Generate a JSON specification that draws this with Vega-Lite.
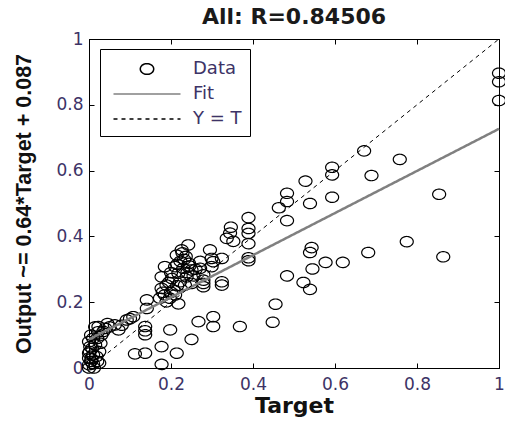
{
  "$schema": "https://vega.github.io/schema/vega-lite/v6.json",
  "width": 410,
  "height": 329,
  "autosize": "none",
  "padding": {"left": 89, "top": 39, "right": 6, "bottom": 55},
  "background": "white",
  "title": {"text": "All: R=0.84506", "font": "DejaVu Sans", "fontSize": 22, "fontWeight": "bold", "color": "#1a1a1a", "offset": 1, "anchor": "middle"},
  "config": {
    "view": {"stroke": "black", "strokeWidth": 1},
    "axis": {"domainColor": "black", "tickColor": "black", "tickSize": -5, "grid": false, "labelFlush": false, "labelFont": "DejaVu Sans", "labelFontSize": 17, "labelColor": "#3d3366", "titleFont": "DejaVu Sans", "titleFontWeight": "bold", "titleColor": "#111111"}
  },
  "layer": [
    {
      "data": {"values": [
        {"T": 1, "O": 0.896, "series": "Data"}, {"T": 1, "O": 0.870, "series": "Data"}, {"T": 1, "O": 0.813, "series": "Data"},
        {"T": 0.671, "O": 0.660, "series": "Data"}, {"T": 0.758, "O": 0.634, "series": "Data"}, {"T": 0.593, "O": 0.610, "series": "Data"},
        {"T": 0.593, "O": 0.587, "series": "Data"}, {"T": 0.689, "O": 0.585, "series": "Data"}, {"T": 0.528, "O": 0.568, "series": "Data"},
        {"T": 0.593, "O": 0.519, "series": "Data"}, {"T": 0.854, "O": 0.528, "series": "Data"}, {"T": 0.483, "O": 0.531, "series": "Data"},
        {"T": 0.483, "O": 0.506, "series": "Data"}, {"T": 0.463, "O": 0.487, "series": "Data"}, {"T": 0.539, "O": 0.500, "series": "Data"},
        {"T": 0.483, "O": 0.448, "series": "Data"}, {"T": 0.389, "O": 0.457, "series": "Data"}, {"T": 0.389, "O": 0.424, "series": "Data"},
        {"T": 0.389, "O": 0.409, "series": "Data"}, {"T": 0.389, "O": 0.378, "series": "Data"}, {"T": 0.389, "O": 0.335, "series": "Data"},
        {"T": 0.389, "O": 0.326, "series": "Data"}, {"T": 0.346, "O": 0.428, "series": "Data"}, {"T": 0.344, "O": 0.410, "series": "Data"},
        {"T": 0.336, "O": 0.394, "series": "Data"}, {"T": 0.352, "O": 0.385, "series": "Data"}, {"T": 0.543, "O": 0.366, "series": "Data"},
        {"T": 0.539, "O": 0.351, "series": "Data"}, {"T": 0.545, "O": 0.301, "series": "Data"}, {"T": 0.577, "O": 0.321, "series": "Data"},
        {"T": 0.619, "O": 0.321, "series": "Data"}, {"T": 0.681, "O": 0.351, "series": "Data"}, {"T": 0.775, "O": 0.384, "series": "Data"},
        {"T": 0.864, "O": 0.338, "series": "Data"}, {"T": 0.483, "O": 0.280, "series": "Data"}, {"T": 0.523, "O": 0.260, "series": "Data"},
        {"T": 0.539, "O": 0.239, "series": "Data"}, {"T": 0.455, "O": 0.194, "series": "Data"}, {"T": 0.448, "O": 0.139, "series": "Data"},
        {"T": 0.368, "O": 0.126, "series": "Data"}, {"T": 0.303, "O": 0.156, "series": "Data"}, {"T": 0.303, "O": 0.126, "series": "Data"},
        {"T": 0.267, "O": 0.141, "series": "Data"}, {"T": 0.250, "O": 0.087, "series": "Data"}, {"T": 0.198, "O": 0.116, "series": "Data"},
        {"T": 0.177, "O": 0.065, "series": "Data"}, {"T": 0.177, "O": 0.011, "series": "Data"}, {"T": 0.214, "O": 0.045, "series": "Data"},
        {"T": 0.137, "O": 0.045, "series": "Data"}, {"T": 0.112, "O": 0.043, "series": "Data"}, {"T": 0.141, "O": 0.207, "series": "Data"},
        {"T": 0.141, "O": 0.181, "series": "Data"}, {"T": 0.137, "O": 0.126, "series": "Data"}, {"T": 0.137, "O": 0.113, "series": "Data"},
        {"T": 0.137, "O": 0.101, "series": "Data"}, {"T": 0.295, "O": 0.359, "series": "Data"}, {"T": 0.299, "O": 0.333, "series": "Data"},
        {"T": 0.303, "O": 0.323, "series": "Data"}, {"T": 0.324, "O": 0.333, "series": "Data"}, {"T": 0.299, "O": 0.308, "series": "Data"},
        {"T": 0.324, "O": 0.262, "series": "Data"}, {"T": 0.324, "O": 0.252, "series": "Data"}, {"T": 0.271, "O": 0.324, "series": "Data"},
        {"T": 0.271, "O": 0.303, "series": "Data"}, {"T": 0.279, "O": 0.283, "series": "Data"}, {"T": 0.279, "O": 0.267, "series": "Data"},
        {"T": 0.279, "O": 0.257, "series": "Data"}, {"T": 0.279, "O": 0.247, "series": "Data"}, {"T": 0.242, "O": 0.374, "series": "Data"},
        {"T": 0.226, "O": 0.359, "series": "Data"}, {"T": 0.214, "O": 0.343, "series": "Data"}, {"T": 0.236, "O": 0.339, "series": "Data"},
        {"T": 0.223, "O": 0.324, "series": "Data"}, {"T": 0.244, "O": 0.318, "series": "Data"}, {"T": 0.210, "O": 0.308, "series": "Data"},
        {"T": 0.230, "O": 0.303, "series": "Data"}, {"T": 0.185, "O": 0.308, "series": "Data"}, {"T": 0.250, "O": 0.298, "series": "Data"},
        {"T": 0.218, "O": 0.288, "series": "Data"}, {"T": 0.238, "O": 0.277, "series": "Data"}, {"T": 0.177, "O": 0.277, "series": "Data"},
        {"T": 0.202, "O": 0.272, "series": "Data"}, {"T": 0.222, "O": 0.262, "series": "Data"}, {"T": 0.189, "O": 0.252, "series": "Data"},
        {"T": 0.234, "O": 0.252, "series": "Data"}, {"T": 0.177, "O": 0.242, "series": "Data"}, {"T": 0.206, "O": 0.237, "series": "Data"},
        {"T": 0.185, "O": 0.222, "series": "Data"}, {"T": 0.173, "O": 0.212, "series": "Data"}, {"T": 0.197, "O": 0.212, "series": "Data"},
        {"T": 0.210, "O": 0.222, "series": "Data"}, {"T": 0.189, "O": 0.201, "series": "Data"}, {"T": 0.218, "O": 0.195, "series": "Data"},
        {"T": 0.250, "O": 0.257, "series": "Data"}, {"T": 0.228, "O": 0.350, "series": "Data"}, {"T": 0.232, "O": 0.330, "series": "Data"},
        {"T": 0.215, "O": 0.315, "series": "Data"}, {"T": 0.240, "O": 0.290, "series": "Data"}, {"T": 0.200, "O": 0.290, "series": "Data"},
        {"T": 0.195, "O": 0.260, "series": "Data"}, {"T": 0.215, "O": 0.250, "series": "Data"}, {"T": 0.200, "O": 0.230, "series": "Data"},
        {"T": 0.180, "O": 0.230, "series": "Data"}, {"T": 0.245, "O": 0.310, "series": "Data"}, {"T": 0.255, "O": 0.280, "series": "Data"},
        {"T": 0.260, "O": 0.300, "series": "Data"}, {"T": 0.108, "O": 0.156, "series": "Data"}, {"T": 0.092, "O": 0.146, "series": "Data"},
        {"T": 0.063, "O": 0.131, "series": "Data"}, {"T": 0.072, "O": 0.116, "series": "Data"}, {"T": 0.023, "O": 0.126, "series": "Data"},
        {"T": 0.035, "O": 0.111, "series": "Data"}, {"T": 0.080, "O": 0.130, "series": "Data"}, {"T": 0.050, "O": 0.125, "series": "Data"},
        {"T": 0.045, "O": 0.135, "series": "Data"}, {"T": 0.100, "O": 0.150, "series": "Data"},
        {"T": 0.000, "O": 0.010, "series": "Data"}, {"T": 0.005, "O": 0.020, "series": "Data"}, {"T": 0.000, "O": 0.030, "series": "Data"},
        {"T": 0.010, "O": 0.040, "series": "Data"}, {"T": 0.002, "O": 0.050, "series": "Data"}, {"T": 0.008, "O": 0.060, "series": "Data"},
        {"T": 0.015, "O": 0.070, "series": "Data"}, {"T": 0.000, "O": 0.080, "series": "Data"}, {"T": 0.020, "O": 0.090, "series": "Data"},
        {"T": 0.005, "O": 0.100, "series": "Data"}, {"T": 0.012, "O": 0.000, "series": "Data"}, {"T": 0.020, "O": 0.020, "series": "Data"},
        {"T": 0.025, "O": 0.050, "series": "Data"}, {"T": 0.003, "O": 0.065, "series": "Data"}, {"T": 0.018, "O": 0.035, "series": "Data"},
        {"T": 0.000, "O": 0.000, "series": "Data"}, {"T": 0.010, "O": 0.012, "series": "Data"}, {"T": 0.028, "O": 0.075, "series": "Data"},
        {"T": 0.030, "O": 0.100, "series": "Data"}, {"T": 0.022, "O": 0.110, "series": "Data"}, {"T": 0.015, "O": 0.125, "series": "Data"},
        {"T": 0.040, "O": 0.120, "series": "Data"}, {"T": 0.010, "O": 0.090, "series": "Data"}, {"T": 0.000, "O": 0.045, "series": "Data"},
        {"T": 0.006, "O": 0.028, "series": "Data"}, {"T": 0.025, "O": 0.015, "series": "Data"}
      ]},
      "mark": {"type": "point", "filled": false, "size": 469, "opacity": 1},
      "encoding": {
        "x": {"field": "T", "type": "quantitative", "scale": {"domain": [0, 1], "nice": false, "zero": false},
              "axis": {"orient": "bottom", "values": [0, 0.2, 0.4, 0.6, 0.8, 1], "format": "~g", "labelPadding": 13, "title": "Target", "titleFontSize": 22, "titlePadding": 3}},
        "y": {"field": "O", "type": "quantitative", "scale": {"domain": [0, 1], "nice": false, "zero": false},
              "axis": {"orient": "left", "values": [0, 0.2, 0.4, 0.6, 0.8, 1], "format": "~g", "labelPadding": 11, "title": "Output ~= 0.64*Target + 0.087", "titleFont": "Liberation Sans", "titleFontSize": 21.5, "titlePadding": 20}},
        "color": {"field": "series", "type": "nominal",
                  "scale": {"domain": ["Data", "Fit", "Y = T"], "range": ["#000000", "#808080", "#000000"]},
                  "legend": {"orient": "none", "legendX": 11, "legendY": 10, "title": null, "strokeColor": "black", "fillColor": "white", "padding": 8,
                             "symbolSize": 499, "symbolOffset": 27, "labelOffset": 34, "labelFont": "DejaVu Sans", "labelFontSize": 18, "labelColor": "#3d3366",
                             "rowPadding": 4, "symbolFillColor": "transparent", "labelLimit": 300,
                             "encode": {"symbols": {"update": {"strokeWidth": {"signal": "datum.value === 'Fit' ? 2.5 : 1.2"}}}}}},
        "shape": {"field": "series", "type": "nominal",
                  "scale": {"domain": ["Data", "Fit", "Y = T"], "range": ["M-0.6,0A0.6,0.48 0 1,0 0.6,0A0.6,0.48 0 1,0 -0.6,0", "M-3,0H3", "M-3,0H3"]}},
        "strokeDash": {"field": "series", "type": "nominal",
                       "scale": {"domain": ["Data", "Fit", "Y = T"], "range": [[1, 0], [1, 0], [4, 4]]}},
        "strokeWidth": {"value": 1.2}
      }
    },
    {
      "data": {"values": [
        {"T": 0, "O": 0.087, "series": "Fit"}, {"T": 1, "O": 0.727, "series": "Fit"},
        {"T": 0, "O": 0, "series": "Y = T"}, {"T": 1, "O": 1, "series": "Y = T"}
      ]},
      "mark": {"type": "line"},
      "encoding": {
        "x": {"field": "T", "type": "quantitative", "axis": {"orient": "top", "values": [0, 0.2, 0.4, 0.6, 0.8, 1], "labels": false, "title": null}},
        "y": {"field": "O", "type": "quantitative", "axis": {"orient": "right", "values": [0, 0.2, 0.4, 0.6, 0.8, 1], "labels": false, "title": null}},
        "color": {"field": "series", "type": "nominal"},
        "strokeDash": {"field": "series", "type": "nominal"},
        "strokeWidth": {"condition": {"test": "datum.series === 'Fit'", "value": 2.5}, "value": 1}
      }
    }
  ],
  "resolve": {"axis": {"x": "independent", "y": "independent"}}
}
